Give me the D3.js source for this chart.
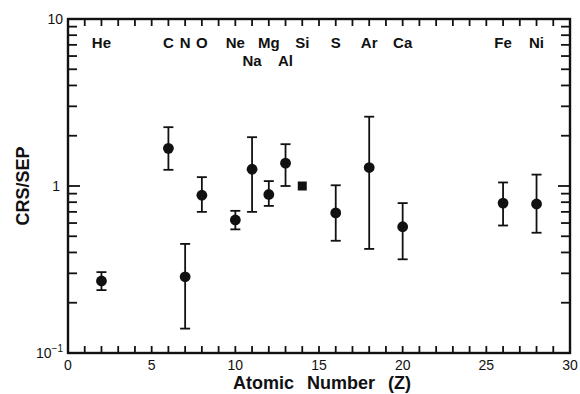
<!DOCTYPE html>
<html>
<head>
<meta charset="utf-8">
<script src="https://cdn.jsdelivr.net/npm/d3@7"></script>
<style>
  body { margin: 0; background: #fff; }
  svg text { font-family: "Liberation Sans", Arial, sans-serif; fill: #111; }
</style>
</head>
<body>
<svg id="chart"></svg>
<script>
// CRS/SEP abundance ratio by element
const elements = ['He', 'C', 'N', 'O', 'Ne', 'Na', 'Mg', 'Al', 'Si', 'S', 'Ar', 'Ca', 'Fe', 'Ni'];
const atomicNumbers = [2, 6, 7, 8, 10, 11, 12, 13, 14, 16, 18, 20, 26, 28];
const ratios = [0.27, 1.68, 0.286, 0.88, 0.626, 1.26, 0.89, 1.37, 1.0, 0.69, 1.29, 0.57, 0.79, 0.78];
const upper = [0.305, 2.25, 0.45, 1.13, 0.71, 1.96, 1.07, 1.78, null, 1.01, 2.6, 0.79, 1.05, 1.17];
const lower = [0.238, 1.25, 0.14, 0.70, 0.55, 0.70, 0.76, 1.0, null, 0.47, 0.42, 0.364, 0.58, 0.525];
const labelRow = [0, 0, 0, 0, 0, 1, 0, 1, 0, 0, 0, 0, 0, 0];
const squareMarker = ['Si'];
const xTicks = [0, 5, 10, 15, 20, 25, 30];

(function() {
  const dim = { w: 580, h: 394, l: 68, r: 570, t: 19, b: 353 };
  const $svg = d3.select('#chart').attr('width', dim.w).attr('height', dim.h);

  const xScale = d3.scaleLinear().domain([0, 30]).range([dim.l, dim.r]);
  const yScale = d3.scaleLog().domain([0.1, 10]).range([dim.b, dim.t]);

  const stroke = '#111';

  // minor/major log ticks on left and right
  var logTicks = [];
  [0.1, 1].forEach((dec) => {
    for (var k = 1; k <= 9; k++) logTicks.push(dec * k);
  });
  logTicks.push(10);
  const $ticks = $svg.append('g').attr('stroke', stroke).attr('stroke-width', 1.8);
  logTicks.forEach((v) => {
    const major = Math.abs(Math.log10(v) - Math.round(Math.log10(v))) < 1e-9;
    const len = major ? 12 : 9;
    $ticks.append('line')
      .attr('x1', dim.l).attr('x2', dim.l + len)
      .attr('y1', yScale(v)).attr('y2', yScale(v));
    $ticks.append('line')
      .attr('x1', dim.r).attr('x2', dim.r - len)
      .attr('y1', yScale(v)).attr('y2', yScale(v));
  });
  d3.range(0, 31).forEach((z) => {
    const len = 7;
    $ticks.append('line')
      .attr('x1', xScale(z)).attr('x2', xScale(z))
      .attr('y1', dim.b).attr('y2', dim.b - len);
    $ticks.append('line')
      .attr('x1', xScale(z)).attr('x2', xScale(z))
      .attr('y1', dim.t).attr('y2', dim.t + len);
  });

  // frame
  $svg.append('rect')
    .attr('x', dim.l).attr('y', dim.t)
    .attr('width', dim.r - dim.l).attr('height', dim.b - dim.t)
    .attr('fill', 'none').attr('stroke', stroke).attr('stroke-width', 2.4);

  // x tick labels
  $svg.append('g').selectAll('text')
    .data(xTicks).enter().append('text')
    .text((d) => d)
    .attr('x', (d) => xScale(d))
    .attr('y', dim.b + 17)
    .attr('text-anchor', 'middle')
    .attr('font-size', 14);

  // y tick labels
  $svg.append('text').text('10')
    .attr('x', dim.l - 5).attr('y', yScale(10) + 5)
    .attr('text-anchor', 'end').attr('font-size', 14);
  $svg.append('text').text('1')
    .attr('x', dim.l - 8).attr('y', yScale(1) + 5)
    .attr('text-anchor', 'end').attr('font-size', 14);
  const $tenth = $svg.append('text')
    .attr('x', dim.l - 5).attr('y', yScale(0.1) + 5)
    .attr('text-anchor', 'end').attr('font-size', 14);
  $tenth.append('tspan').text('10');
  $tenth.append('tspan').text('−1').attr('font-size', 10).attr('dy', -6);

  // axis titles
  $svg.append('text')
    .text('Atomic Number (Z)')
    .attr('x', 322)
    .attr('y', dim.b + 36)
    .attr('text-anchor', 'middle')
    .attr('font-size', 18)
    .attr('font-weight', 'bold')
    .attr('word-spacing', 8);
  $svg.append('text')
    .text('CRS/SEP')
    .attr('text-anchor', 'middle')
    .attr('font-size', 18)
    .attr('font-weight', 'bold')
    .attr('transform', 'translate(29,' + yScale(1) + ') rotate(-90)');

  // element labels
  $svg.append('g').selectAll('text')
    .data(elements).enter().append('text')
    .text((d) => d)
    .attr('x', (d, i) => xScale(atomicNumbers[i]))
    .attr('y', (d, i) => 48 + labelRow[i] * 18)
    .attr('text-anchor', 'middle')
    .attr('font-size', 15)
    .attr('font-weight', 'bold');

  // error bars
  const $err = $svg.append('g').attr('stroke', stroke).attr('stroke-width', 1.8);
  elements.forEach((el, i) => {
    if (upper[i] == null) return;
    const x = xScale(atomicNumbers[i]);
    $err.append('line')
      .attr('x1', x).attr('x2', x)
      .attr('y1', yScale(upper[i])).attr('y2', yScale(lower[i]));
    [upper[i], lower[i]].forEach((v) => {
      $err.append('line')
        .attr('x1', x - 5).attr('x2', x + 5)
        .attr('y1', yScale(v)).attr('y2', yScale(v));
    });
  });

  // markers
  const $pts = $svg.append('g').attr('fill', stroke);
  elements.forEach((el, i) => {
    const x = xScale(atomicNumbers[i]), y = yScale(ratios[i]);
    if (squareMarker.indexOf(el) >= 0) {
      $pts.append('rect')
        .attr('x', x - 4.5).attr('y', y - 4.5)
        .attr('width', 9).attr('height', 9);
    } else {
      $pts.append('circle').attr('cx', x).attr('cy', y).attr('r', 5.4);
    }
  });
})();
</script>
</body>
</html>
